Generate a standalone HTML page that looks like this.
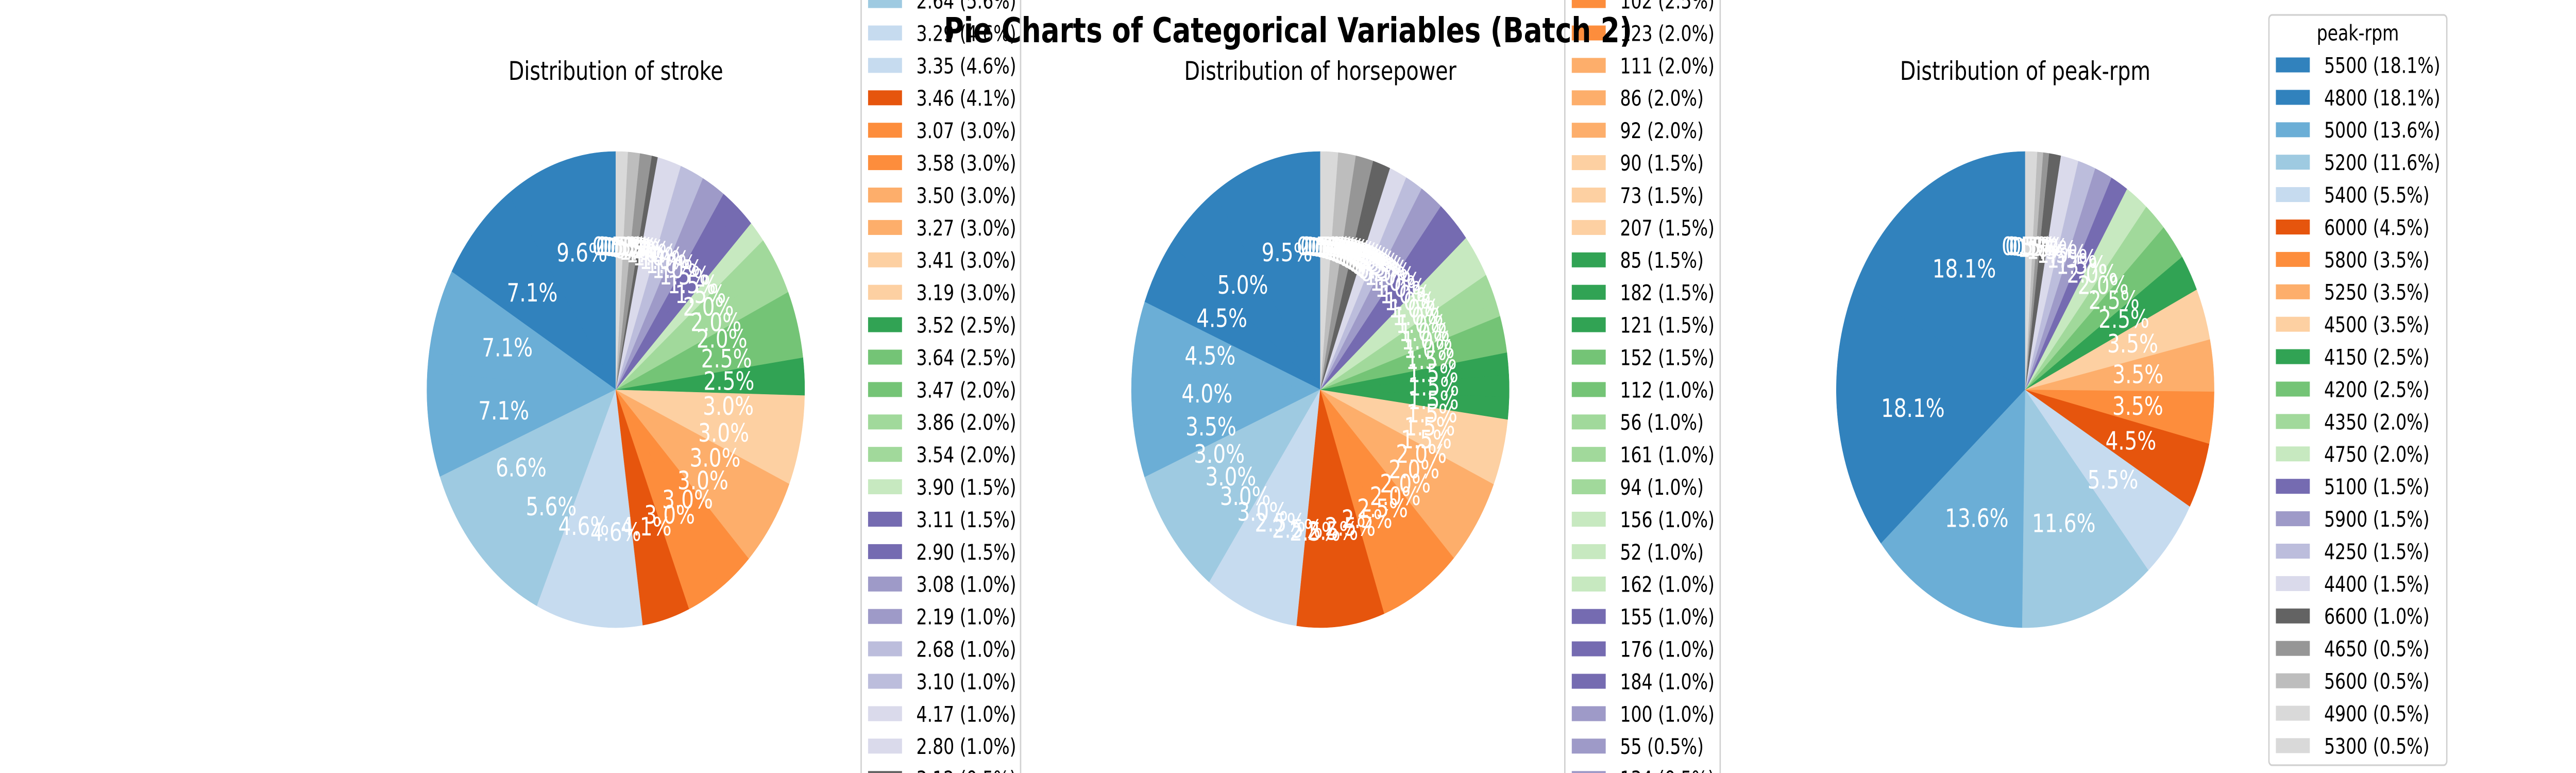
<!DOCTYPE html>
<html><head><meta charset="utf-8">
<style>
html,body{margin:0;padding:0;background:#fff;width:100vw;height:100vh;overflow:hidden;}
#wrap{position:relative;width:100vw;height:100vh;overflow:hidden;}
svg{display:block;width:100vw;height:100vh;overflow:hidden;font-family:"DejaVu Sans","Liberation Sans",sans-serif;}
</style></head>
<body>
<div id="wrap">
<svg id="fig" viewBox="0 0 6300 1500" preserveAspectRatio="none" overflow="hidden" xmlns="http://www.w3.org/2000/svg">
<defs><clipPath id="frameclip"><rect x="0" y="0" width="6300" height="1500"/></clipPath></defs>
<rect width="6300" height="1500" fill="#fff"/>
<g id="content" clip-path="url(#frameclip)"></g>
<text x="3150" y="82" text-anchor="middle" font-size="67" font-weight="bold">Pie Charts of Categorical Variables (Batch 2)</text>
</svg>
</div>
<script>
// ---- stroke data ----
const strokeCategories = ["3.40","3.03","3.15","3.23","3.39","2.64","3.29","3.35","3.46","3.07","3.58","3.50","3.27","3.41","3.19","3.52","3.64","3.47","3.86","3.54","3.90","3.11","2.90","3.08","2.19","2.68","3.10","4.17","2.80","3.12","3.21","3.16","2.87","2.07","2.36","2.76"];
const strokeCounts = [19,14,14,14,13,11,9,9,8,6,6,6,6,6,6,5,5,4,4,4,3,3,3,2,2,2,2,2,2,1,1,1,1,1,1,1];
// ---- horsepower data ----
const hpCategories = ["68","70","69","116","110","95","88","62","160","101","114","84","145","97","82","76","102","123","111","86","92","90","73","207","85","182","121","152","112","56","161","94","156","52","162","155","176","184","100","55","134","140","115","200","48","58","60","142","143","154","120","135","175","262","288","106","78","64","72"];
const hpCounts = [19,10,9,9,8,7,6,6,6,6,5,5,5,5,5,5,5,4,4,4,4,3,3,3,3,3,3,3,2,2,2,2,2,2,2,2,2,2,2,1,1,1,1,1,1,1,1,1,1,1,1,1,1,1,1,1,1,1,1];
// ---- peak-rpm data ----
const rpmCategories = ["5500","4800","5000","5200","5400","6000","5800","5250","4500","4150","4200","4350","4750","5100","5900","4250","4400","6600","4650","5600","4900","5300"];
const rpmCounts = [36,36,27,23,11,9,7,7,7,5,5,4,4,3,3,3,3,2,1,1,1,1];

const TAB20C = ["#3182bd","#6baed6","#9ecae1","#c6dbef","#e6550d","#fd8d3c","#fdae6b","#fdd0a2","#31a354","#74c476","#a1d99b","#c7e9c0","#756bb1","#9e9ac8","#bcbddc","#dadaeb","#636363","#969696","#bdbdbd","#d9d9d9"];
const NS = "http://www.w3.org/2000/svg";
const root = document.getElementById('content');

function colorFor(i, n){
  const step = 1/(n-1);
  let k = Math.floor(i*step*20);
  if (k > 19) k = 19;
  return TAB20C[k];
}
function mk(tag, attrs, parent){
  const e = document.createElementNS(NS, tag);
  for (const k in attrs) e.setAttribute(k, attrs[k]);
  parent.appendChild(e);
  return e;
}

function drawPie(opts){
  const {cats, counts, cx, cy, r, title, varName, legX, legW, rowY0, rowIdx0} = opts;
  const g = mk('g', {}, root);
  
  
  const total = counts.reduce((a,b)=>a+b,0);
  const n = counts.length;
  const t = mk('text', {x: cx, y: 155, 'text-anchor':'middle', 'font-size': 50}, g);
  t.textContent = title;
  
  
  let ang = 90;
  const labels = [];
  for (let i=0;i<n;i++){
    const frac = counts[i]/total;
    const a0 = ang, a1 = ang + frac*360;
    const rad0 = a0*Math.PI/180, rad1 = a1*Math.PI/180;
    const x0 = cx + r*Math.cos(rad0), y0 = cy - r*Math.sin(rad0);
    const x1 = cx + r*Math.cos(rad1), y1 = cy - r*Math.sin(rad1);
    const large = (a1-a0) > 180 ? 1 : 0;
    const col = colorFor(i, n);
    const p = mk('path', {d:`M${cx},${cy} L${x0},${y0} A${r},${r} 0 ${large} 0 ${x1},${y1} Z`, fill: col, stroke: col, 'stroke-width': 0.6}, g);
    
    
    const am = (a0+a1)/2*Math.PI/180;
    labels.push({x: cx + 0.6*r*Math.cos(am), y: cy - 0.6*r*Math.sin(am), txt: (frac*100).toFixed(1)+'%', cat: cats[i]});
    ang = a1;
  }
  for (const L of labels){
    const tx = mk('text', {x: L.x, y: L.y, 'text-anchor':'middle', 'dominant-baseline':'central', 'font-size': 49, fill:'#fff'}, g);
    tx.textContent = L.txt;
    
    
  }
  const sp = 62.9;
  const firstY = rowY0 - rowIdx0*sp;
  const lastY = firstY + (n-1)*sp;
  const lg = mk('g', {}, root);
  
  
  const top = Math.max(firstY - 97, -20), bot = Math.min(lastY + 38, 1520);
  const fr = mk('rect', {x: legX, y: top, width: legW, height: bot-top, rx: 8, fill:'#fff', 'fill-opacity':0.85, stroke:'#d0d0d0', 'stroke-width':3.3}, lg);
  
  
  if (firstY - 62 > 0) {
    const lt = mk('text', {x: legX + legW/2, y: firstY - 62, 'text-anchor':'middle', 'dominant-baseline':'central', 'font-size': 41.7}, lg);
    lt.textContent = varName;
    
    
  }
  for (let i=0;i<n;i++){
    const y = firstY + i*sp;
    if (y < -30 || y > 1530) continue;
    const e = mk('g', {}, lg);
    
    
    mk('rect', {x: legX+17, y: y-14.5, width: 83, height: 29, fill: colorFor(i,n)}, e);
    const tx = mk('text', {x: legX+135, y: y+1, 'dominant-baseline':'central', 'font-size': 41.7}, e);
    tx.textContent = cats[i] + ' (' + (counts[i]/total*100).toFixed(1) + '%)';
  }
}

drawPie({cats: strokeCategories, counts: strokeCounts, cx:1506, cy:756, r:462, title:'Distribution of stroke', varName:'stroke', legX:2106, legW:390, rowY0:64, rowIdx0:6});
drawPie({cats: hpCategories, counts: hpCounts, cx:3229, cy:756, r:462, title:'Distribution of horsepower', varName:'horsepower', legX:3827, legW:380, rowY0:64, rowIdx0:17});
drawPie({cats: rpmCategories, counts: rpmCounts, cx:4953, cy:756, r:462, title:'Distribution of peak-rpm', varName:'peak-rpm', legX:5549, legW:435, rowY0:126, rowIdx0:0});
</script>
</body></html>
